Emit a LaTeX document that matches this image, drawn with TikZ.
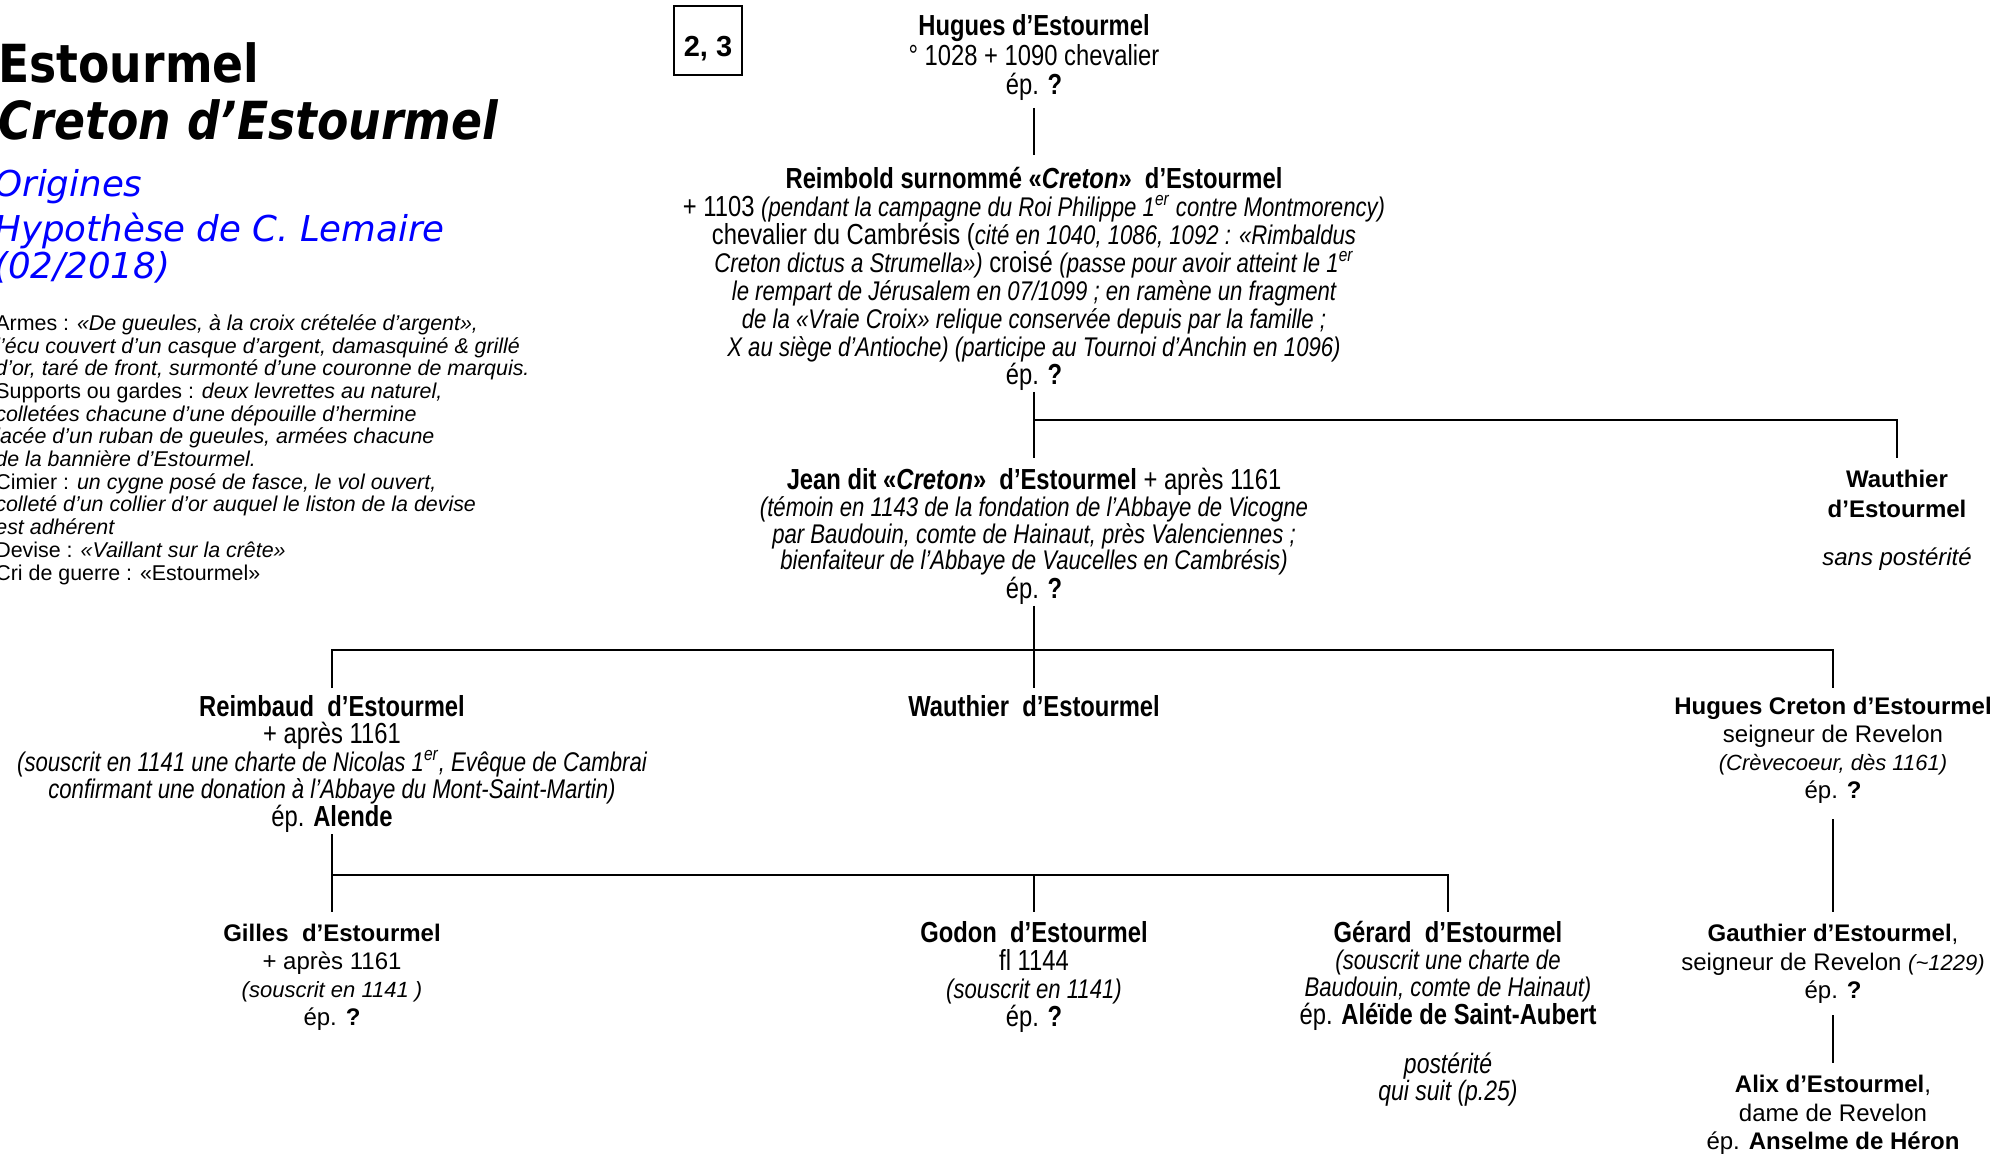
\documentclass[tikz,border=0pt]{standalone}
\usepackage{fontspec}
\setmainfont{Liberation Sans}
\newfontfamily\nar[FakeStretch=0.82]{Liberation Sans}
\newfontfamily\ttl[FakeStretch=0.87]{DejaVu Sans}
\newfontfamily\ttlb{DejaVu Sans}
\definecolor{titleblue}{RGB}{0,0,255}
\newcommand\fstrut{\rule{0pt}{12pt}}
\newcommand\nit[1]{{\itshape\fontsize{13.5}{14}\selectfont #1}}
\newcommand\ait[1]{{\itshape\fontsize{11}{14}\selectfont #1}}
\newcommand\ersup{\textsuperscript{er}}
\tikzset{
  conn/.style={line width=1.2pt},
  pers/.style={anchor=north, align=center, inner sep=0pt},
  ttlnode/.style={anchor=base west, inner sep=0pt},
  bluenode/.style={anchor=base west, inner sep=0pt, text=titleblue, font=\ttlb\itshape\fontsize{17.8}{20}\selectfont},
}
\begin{document}
\begin{tikzpicture}[x=0.5pt,y=-0.5pt]
\useasboundingbox (0,0) rectangle (1997,1154);
% titles
\node[ttlnode, font=\ttl\bfseries\fontsize{26.25}{30}\selectfont] (t1) at (-2,83) {Estourmel};
\node[ttlnode, font=\ttl\bfseries\itshape\fontsize{26.25}{30}\selectfont] (t2) at (-2,140) {Creton d’Estourmel};
\node[bluenode] (t3) at (-6,197) {Origines};
\node[bluenode] (t4) at (-6,242) {Hypothèse de C. Lemaire};
\node[bluenode] (t5) at (-6,279) {(02/2018)};
% armes
\node[anchor=north west, align=left, inner sep=0pt, font=\fontsize{10.7}{11.35}\selectfont] (armes) at (-5,312)
{\rule{0pt}{9pt}Armes : \textit{«De gueules, à la croix crételée d’argent»,}\\
\textit{l’écu couvert d’un casque d’argent, damasquiné \& grillé}\\
\textit{d’or, taré de front, surmonté d’une couronne de marquis.}\\
Supports ou gardes : \textit{deux levrettes au naturel,}\\
\textit{colletées chacune d’une dépouille d’hermine}\\
\textit{lacée d’un ruban de gueules, armées chacune}\\
\textit{de la bannière d’Estourmel.}\\
Cimier : \textit{un cygne posé de fasce, le vol ouvert,}\\
\textit{colleté d’un collier d’or auquel le liston de la devise}\\
\textit{est adhérent}\\
Devise : \textit{«Vaillant sur la crête»}\\
Cri de guerre : «Estourmel»};
% page box
\node[draw, line width=0.75pt, minimum width=34pt, minimum height=34.5pt, inner sep=0pt, text height=16.2pt, text depth=0pt, font=\bfseries\fontsize{14.5}{16}\selectfont] (page) at (708,40.5) {2, 3};
% persons
\node[pers, font=\nar\fontsize{14.5}{14.6}\selectfont] (hugues) at (1034,11.5)
{\fstrut\textbf{Hugues d’Estourmel}\\° 1028 + 1090 chevalier\\ép. \textbf{?}};
\node[pers, font=\nar\fontsize{14.5}{14}\selectfont] (reimbold) at (1034,164)
{\fstrut\textbf{Reimbold surnommé «\textit{Creton}»~ d’Estourmel}\\
+ 1103 \nit{(pendant la campagne du Roi Philippe 1\ersup{} contre Montmorency)}\\
chevalier du Cambrésis (\nit{cité en 1040, 1086, 1092 : «Rimbaldus}\\
\nit{Creton dictus a Strumella»)} croisé \nit{(passe pour avoir atteint le 1\ersup}\\
\nit{le rempart de Jérusalem en 07/1099 ; en ramène un fragment}\\
\nit{de la «Vraie Croix» relique conservée depuis par la famille ;}\\
\nit{X au siège d’Antioche) (participe au Tournoi d’Anchin en 1096)}\\
ép. \textbf{?}};
\node[pers, font=\nar\fontsize{14.5}{13.4}\selectfont] (jean) at (1034,465)
{\fstrut\textbf{Jean dit «\textit{Creton}»~ d’Estourmel} + après 1161\\
\nit{(témoin en 1143 de la fondation de l’Abbaye de Vicogne}\\
\nit{par Baudouin, comte de Hainaut, près Valenciennes ;}\\
\nit{bienfaiteur de l’Abbaye de Vaucelles en Cambrésis)}\\
ép. \textbf{?}};
\node[pers, font=\fontsize{12}{14.6}\selectfont] (wauthR) at (1897,463.5)
{\fstrut\textbf{Wauthier}\\\textbf{d’Estourmel}\\[9.6pt]\textit{sans postérité}};
\node[pers, font=\nar\fontsize{14.5}{13.7}\selectfont] (reimbaud) at (332,692)
{\fstrut\textbf{Reimbaud~ d’Estourmel}\\+ après 1161\\
\nit{(souscrit en 1141 une charte de Nicolas 1\ersup, Evêque de Cambrai}\\
\nit{confirmant une donation à l’Abbaye du Mont-Saint-Martin)}\\
ép. \textbf{Alende}};
\node[pers, font=\nar\fontsize{14.5}{14}\selectfont] (wauthM) at (1034,692)
{\fstrut\textbf{Wauthier~ d’Estourmel}};
\node[pers, font=\fontsize{12}{14}\selectfont] (hcreton) at (1833,690)
{\fstrut\textbf{Hugues Creton d’Estourmel}\\seigneur de Revelon\\\ait{(Crèvecoeur, dès 1161)}\\ép. \textbf{?}};
\node[pers, font=\fontsize{12}{14}\selectfont] (gilles) at (332,917)
{\fstrut\textbf{Gilles~ d’Estourmel}\\+ après 1161\\\ait{(souscrit en 1141 )}\\ép. \textbf{?}};
\node[pers, font=\nar\fontsize{14.5}{14}\selectfont] (godon) at (1034,918)
{\fstrut\textbf{Godon~ d’Estourmel}\\fl 1144\\\nit{(souscrit en 1141)}\\ép. \textbf{?}};
\node[pers, font=\nar\fontsize{14.5}{13.4}\selectfont] (gerard) at (1448,918)
{\fstrut\textbf{Gérard~ d’Estourmel}\\\nit{(souscrit une charte de}\\\nit{Baudouin, comte de Hainaut)}\\
ép. \textbf{Aléïde de Saint-Aubert}\\[10.8pt]{\itshape\fontsize{14}{14}\selectfont postérité}\\{\itshape\fontsize{14}{14}\selectfont qui suit (p.25)}};
\node[pers, font=\fontsize{12}{14.3}\selectfont] (gauthier) at (1833,917)
{\fstrut\textbf{Gauthier d’Estourmel},\\seigneur de Revelon \ait{(\textasciitilde1229)}\\ép. \textbf{?}};
\node[pers, font=\fontsize{12}{14.3}\selectfont] (alix) at (1833,1068)
{\fstrut\textbf{Alix d’Estourmel},\\dame de Revelon\\ép. \textbf{Anselme de Héron}};
% connectors
\draw[conn] (hugues.south |- 0,108) -- (reimbold.north |- 0,155);
\draw[conn] (reimbold.south |- 0,392) -- (jean.north |- 0,458);
\draw[conn] (reimbold.south |- 0,420) -| (wauthR.north |- 0,458);
\draw[conn] (jean.south |- 0,606) -- (wauthM.north |- 0,688);
\draw[conn] (reimbaud.north |- 0,688) |- (hcreton.north |- 0,650) -- (hcreton.north |- 0,688);
\draw[conn] (reimbaud.south |- 0,834) -- (gilles.north |- 0,912);
\draw[conn] (gilles.north |- 0,875) -| (gerard.north |- 0,912);
\draw[conn] (godon.north |- 0,875) -- (godon.north |- 0,912);
\draw[conn] (hcreton.south |- 0,819) -- (gauthier.north |- 0,912);
\draw[conn] (gauthier.south |- 0,1015) -- (alix.north |- 0,1063);
\end{tikzpicture}
\end{document}
